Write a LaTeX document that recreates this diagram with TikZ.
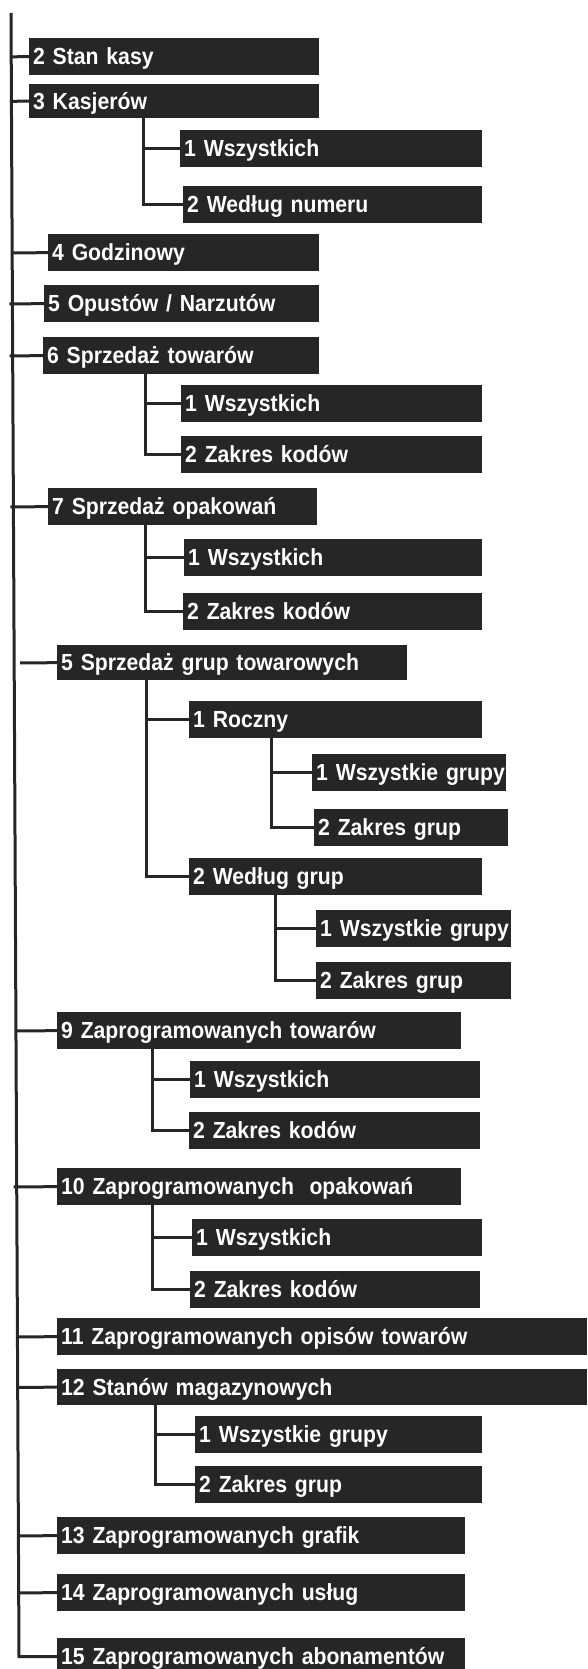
\documentclass[tikz,border=0pt]{standalone}
\usepackage{fontspec}
\usepackage{xcolor}
\usepackage{tikz}
\usetikzlibrary{positioning,calc}

\newfontfamily\menufont{Liberation Sans}[FakeStretch=0.91]
\definecolor{menugray}{HTML}{262626}

\begin{document}
\begin{tikzpicture}[
    x=1pt, y=-1pt,
    menubox/.style={anchor=north west, fill=menugray, text=white, inner xsep=4pt, inner ysep=0pt,
        minimum height=37pt, text height=19pt, text depth=3pt, text width=#1pt-8pt, align=left,
        font=\menufont\bfseries\fontsize{23.3}{26}\selectfont,
        execute at begin node=\hbox\bgroup, execute at end node=\egroup},
    link/.style={draw=menugray, line width=3pt}
]
\useasboundingbox (0,0) rectangle (587,1669);

\node[menubox=290] (stan) at (29,38) {2 Stan kasy};
\node[menubox=290, minimum height=34pt] (kas) at (29,84) {3 Kasjerów};
\node[menubox=302] (kas1) at (180,130) {1 Wszystkich};
\node[menubox=299] (kas2) at (183,186) {2 Według numeru};
\node[menubox=271] (godz) at (48,234) {4 Godzinowy};
\node[menubox=275] (opu) at (44,285) {5 Opustów / Narzutów};
\node[menubox=276] (tow) at (43,337) {6 Sprzedaż towarów};
\node[menubox=301] (tow1) at (181,385) {1 Wszystkich};
\node[menubox=301] (tow2) at (181,436) {2 Zakres kodów};
\node[menubox=269] (opa) at (48,488) {7 Sprzedaż opakowań};
\node[menubox=298] (opa1) at (184,539) {1 Wszystkich};
\node[menubox=299] (opa2) at (183,593) {2 Zakres kodów};
\node[menubox=350, minimum height=35pt] (grp) at (57,645) {5 Sprzedaż grup towarowych};
\node[menubox=293] (rok) at (189,701) {1 Roczny};
\node[menubox=194] (rok1) at (312,754) {1 Wszystkie grupy};
\node[menubox=194] (rok2) at (314,809) {2 Zakres grup};
\node[menubox=293] (wg) at (189,858) {2 Według grup};
\node[menubox=195] (wg1) at (316,910) {1 Wszystkie grupy};
\node[menubox=195] (wg2) at (316,962) {2 Zakres grup};
\node[menubox=404] (ztow) at (57,1012) {9 Zaprogramowanych towarów};
\node[menubox=290] (ztow1) at (190,1061) {1 Wszystkich};
\node[menubox=291] (ztow2) at (189,1112) {2 Zakres kodów};
\node[menubox=404] (zopa) at (57,1168) {10 Zaprogramowanych~ opakowań};
\node[menubox=290] (zopa1) at (192,1219) {1 Wszystkich};
\node[menubox=290] (zopa2) at (190,1271) {2 Zakres kodów};
\node[menubox=530] (opis) at (57,1318) {11 Zaprogramowanych opisów towarów};
\node[menubox=530, minimum height=36pt] (mag) at (57,1369) {12 Stanów magazynowych};
\node[menubox=287] (mag1) at (195,1416) {1 Wszystkie grupy};
\node[menubox=287] (mag2) at (195,1466) {2 Zakres grup};
\node[menubox=408] (graf) at (57,1517) {13 Zaprogramowanych grafik};
\node[menubox=408] (usl) at (57,1574) {14 Zaprogramowanych usług};
\node[menubox=408] (abo) at (57,1638) {15 Zaprogramowanych abonamentów};

% main trunk
\coordinate (top) at (11,13);
\coordinate (bot) at ([xshift=-38pt]abo.west);
\draw[link] (top) -- (bot) -- (abo.west);

% first level branches
\foreach \b/\s in {stan/0,kas/0,godz/0,opu/-3,tow/-3,opa/-3,grp/6,ztow/0,zopa/-3,opis/0,mag/0,graf/0,usl/0}
    \draw[link] ([xshift=\s pt]$(top)!(\b.west)!(bot)$) -- (\b.west);

% sub menus
\foreach \p/\s/\c in {kas/114/kas1, kas/114/kas2, tow/102/tow1, tow/102/tow2,
        opa/97/opa1, opa/97/opa2, grp/89/rok, grp/89/wg, rok/82/rok1, rok/82/rok2,
        wg/86/wg1, wg/86/wg2, ztow/95/ztow1, ztow/95/ztow2, zopa/95/zopa1, zopa/95/zopa2,
        mag/98/mag1, mag/98/mag2}
    \draw[link] ([xshift=\s pt]\p.south west) |- (\c.west);
\end{tikzpicture}
\end{document}
